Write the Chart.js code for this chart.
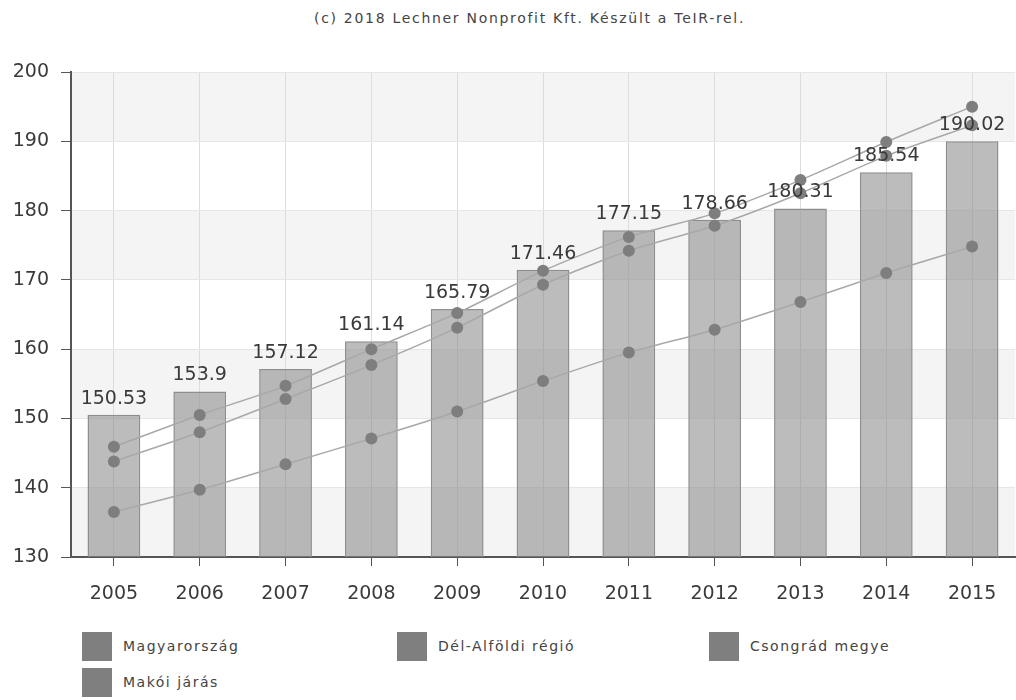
<!DOCTYPE html>
<html>
<head>
<meta charset="utf-8">
<script src="https://cdn.jsdelivr.net/npm/chart.js@4"></script>
<style>
  body { margin: 0; background: #fff; overflow: hidden; font-family: "DejaVu Sans", sans-serif; }
  .wrap { position: relative; width: 1016px; height: 700px; overflow: hidden; }
  #chart { position: absolute; left: 0; top: 0; }
  .title { position: absolute; top: 10px; left: 314px; font-size: 14px; color: #444; letter-spacing: 1.7px; white-space: nowrap; }
  .leg { position: absolute; font-size: 14px; color: #444; letter-spacing: 1.5px; white-space: nowrap; line-height: 29px; }
  .leg span { display: inline-block; width: 30px; height: 29px; background: #7f7f7f; vertical-align: top; margin-right: 11px; }
</style>
</head>
<body>
<div class="wrap">
  <div class="title">(c) 2018 Lechner Nonprofit Kft. Készült a TeIR-rel.</div>
  <canvas id="chart" width="1021" height="620"></canvas>
  <div class="leg" style="left:82px; top:632px;"><span></span>Magyarország</div>
  <div class="leg" style="left:397px; top:632px;"><span></span>Dél-Alföldi régió</div>
  <div class="leg" style="left:709px; top:632px;"><span></span>Csongrád megye</div>
  <div class="leg" style="left:82px; top:668px;"><span></span>Makói járás</div>
</div>
<script>
const years = ['2005', '2006', '2007', '2008', '2009', '2010', '2011', '2012', '2013', '2014', '2015'];
const magyarorszag = [150.53, 153.9, 157.12, 161.14, 165.79, 171.46, 177.15, 178.66, 180.31, 185.54, 190.02];
const delAlfold = [143.8, 148.0, 152.8, 157.7, 163.1, 169.3, 174.2, 177.8, 182.5, 187.9, 192.3];
const csongrad = [145.9, 150.5, 154.7, 160.0, 165.2, 171.3, 176.2, 179.6, 184.4, 189.9, 195.0];
const makoi = [136.5, 139.7, 143.4, 147.1, 151.0, 155.4, 159.5, 162.8, 166.8, 171.0, 174.8];

const yTicks = [130, 140, 150, 160, 170, 180, 190, 200];

// alternating grey bands behind the plot
const bandPlugin = {
    id: 'bands',
    beforeDraw(chart) {
        const { ctx, chartArea, scales } = chart;
        ctx.save();
        ctx.fillStyle = '#f4f4f4';
        for (let i = 0; i < yTicks.length - 1; i += 2) {
            const y1 = scales.y.getPixelForValue(yTicks[i]);
            const y2 = scales.y.getPixelForValue(yTicks[i + 1]);
            ctx.fillRect(chartArea.left, y2, chartArea.right - chartArea.left, y1 - y2);
        }
        ctx.restore();
    }
};

// value labels above the bars
const barLabels = {
    id: 'barLabels',
    afterDraw(chart) {
        const { ctx } = chart;
        const meta = chart.getDatasetMeta(0);
        ctx.save();
        ctx.font = '19px "DejaVu Sans"';
        ctx.fillStyle = '#3a3a3a';
        ctx.textAlign = 'center';
        ctx.textBaseline = 'alphabetic';
        meta.data.forEach((bar, i) => {
            ctx.fillText(String(magyarorszag[i]), bar.x, bar.y - 11);
        });
        ctx.restore();
    }
};

function lineSet(label, data) {
    return {
        type: 'line',
        label: label,
        data: data,
        borderColor: '#a8a8a8',
        borderWidth: 1.5,
        pointRadius: 6,
        pointBackgroundColor: '#7e7e7e',
        pointBorderColor: '#7e7e7e',
        pointBorderWidth: 0,
        tension: 0.25,
        order: 1
    };
}

const chart = new Chart(document.getElementById('chart'), {
    type: 'bar',
    data: {
        labels: years,
        datasets: [
            {
                label: 'Magyarország',
                data: magyarorszag,
                backgroundColor: 'rgba(140,140,140,0.58)',
                borderColor: '#8e8e8e',
                borderWidth: 1.5,
                categoryPercentage: 1,
                barPercentage: 0.615,
                order: 2
            },
            lineSet('Csongrád megye', csongrad),
            lineSet('Dél-Alföldi régió', delAlfold),
            lineSet('Makói járás', makoi)
        ]
    },
    options: {
        responsive: false,
        animation: false,
        layout: { padding: { top: 72, left: 0, right: 0, bottom: 0 } },
        plugins: {
            legend: { display: false },
            tooltip: { enabled: false }
        },
        scales: {
            x: {
                grid: { offset: false, color: '#dcdcdc', tickColor: '#555', tickLength: 9 },
                border: { color: '#555', width: 2 },
                ticks: { color: '#3a3a3a', font: { family: 'DejaVu Sans', size: 19 }, padding: 17, maxRotation: 0 },
                afterFit(s) { s.height = 63; }
            },
            y: {
                min: 130,
                max: 200,
                grid: { color: '#e6e6e6', tickColor: '#555', tickLength: 10 },
                border: { color: '#555', width: 2 },
                ticks: { stepSize: 10, color: '#3a3a3a', font: { family: 'DejaVu Sans', size: 19 }, padding: 12 },
                afterFit(s) { s.width = 71; }
            }
        }
    },
    plugins: [bandPlugin, barLabels]
});
</script>
</body>
</html>
